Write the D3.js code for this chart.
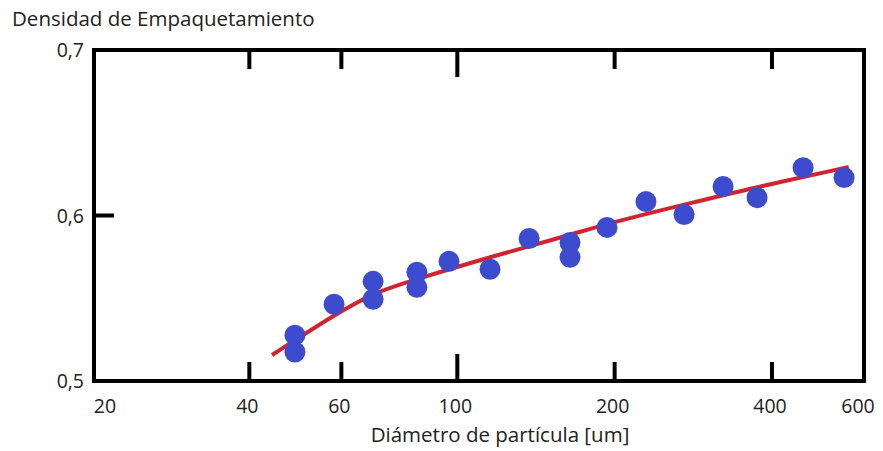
<!DOCTYPE html>
<html>
<head>
<meta charset="utf-8">
<script src="https://cdn.jsdelivr.net/npm/d3@7"></script>
<style>
  body { margin: 0; background: #fff; }
  text { font-family: "Open Sans", sans-serif; fill: #222; }
</style>
</head>
<body>
<svg id="chart" width="883" height="451"></svg>
<script>
// measured points (diameter in um, packing density)
var diam = [48.9, 48.9, 58.1, 69.0, 69.0, 83.7, 83.7, 96.4, 115.5, 137.2,
    164.3, 164.3, 193.4, 229.6, 271.6, 322.5, 374.6, 458.8, 549.6];
var density = [0.5277, 0.5175, 0.5464, 0.5602, 0.5494, 0.5657, 0.5566, 0.5723, 0.5675, 0.5861,
    0.5837, 0.5747, 0.5928, 0.6084, 0.6006, 0.6175, 0.6108, 0.6289, 0.6229];

// fitted trend line
var fitDiam = [44.2, 58.1, 69.0, 83.7, 115.5, 164.3, 198.6, 291, 374.6, 561];
var fitDensity = [0.5157, 0.5399, 0.5532, 0.5616, 0.5749, 0.5882, 0.5961, 0.6088, 0.6172, 0.6293];

var xTicks = [20, 40, 60, 100, 200, 400, 600];
var yTicks = [0.5, 0.6, 0.7];

var svg = d3.select('#chart');
var plotLeft = 94, plotRight = 864, plotTop = 50, plotBottom = 381;

var x = d3.scaleLog().domain([20, 600]).range([92, 864]);
var y = d3.scaleLinear().domain([0.5, 0.7]).range([plotBottom, plotTop]);

// frame
svg.append('rect')
    .attr('x', plotLeft).attr('y', plotTop)
    .attr('width', plotRight - plotLeft).attr('height', plotBottom - plotTop)
    .style('fill', 'none')
    .attr('stroke', '#000')
    .style('stroke-width', 4);

// inner ticks, top and bottom
var inner = xTicks.filter(function (d) { return d > 20 && d < 600; });
function tickLen(d) { return d == 100 ? 27 : 19; }

svg.selectAll('.tick_top')
    .data(inner)
    .enter().append('line')
    .attr('class', 'tick_top')
    .attr('x1', function (d) { return x(d); })
    .attr('x2', function (d) { return x(d); })
    .attr('y1', plotTop)
    .attr('y2', function (d) { return plotTop + tickLen(d); })
    .attr('stroke', '#000')
    .style('stroke-width', 4);

svg.selectAll('.tick_bottom')
    .data(inner)
    .enter().append('line')
    .attr('class', 'tick_bottom')
    .attr('x1', function (d) { return x(d); })
    .attr('x2', function (d) { return x(d); })
    .attr('y1', plotBottom)
    .attr('y2', function (d) { return plotBottom - tickLen(d); })
    .attr('stroke', '#000')
    .style('stroke-width', 4);

svg.append('line')
    .attr('x1', plotLeft).attr('x2', plotLeft + 20)
    .attr('y1', y(0.6)).attr('y2', y(0.6))
    .attr('stroke', '#000')
    .style('stroke-width', 4);

// tick labels
svg.selectAll('.xlabel')
    .data(xTicks)
    .enter().append('text')
    .attr('class', 'xlabel')
    .attr('x', function (d, i) {
        if (i == 0) return x(d) + 13;
        if (i == xTicks.length - 1) return x(d) - 6;
        return x(d) - 2;
    })
    .attr('y', 413)
    .style('text-anchor', 'middle')
    .style('font-size', '19.5px')
    .text(function (d) { return d; });

svg.selectAll('.ylabel')
    .data(yTicks)
    .enter().append('text')
    .attr('class', 'ylabel')
    .attr('x', 84)
    .attr('y', function (d) { return y(d) + 7; })
    .style('text-anchor', 'end')
    .style('font-size', '19.5px')
    .text(function (d) { return d3.format('.1f')(d).replace('.', ','); });

// titles
svg.append('text')
    .attr('x', 12).attr('y', 26)
    .style('font-size', '20.5px')
    .text('Densidad de Empaquetamiento');

svg.append('text')
    .attr('x', 500).attr('y', 442)
    .style('text-anchor', 'middle')
    .style('font-size', '20.5px')
    .text('Diámetro de partícula [um]');

// fit line, under the dots
var line = d3.line()
    .x(function (d) { return x(d); })
    .y(function (d, i) { return y(fitDensity[i]); })
    .curve(d3.curveBasis);

svg.append('path')
    .datum(fitDiam)
    .attr('d', line)
    .style('fill', 'none')
    .attr('stroke', '#d2232e')
    .style('stroke-width', 4);

// dots
svg.selectAll('.dot')
    .data(diam)
    .enter().append('circle')
    .attr('class', 'dot')
    .attr('cx', function (d) { return x(d); })
    .attr('cy', function (d, i) { return y(density[i]); })
    .attr('r', 10.5)
    .style('fill', '#3d4ccf');
</script>
</body>
</html>
